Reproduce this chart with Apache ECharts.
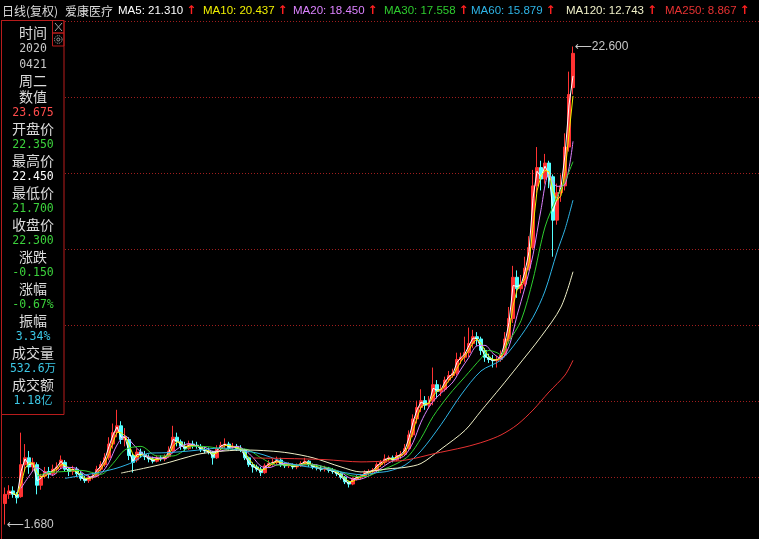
<!DOCTYPE html>
<html>
<head>
<meta charset="utf-8">
<script src="https://cdn.jsdelivr.net/npm/echarts@6/dist/echarts.min.js"></script>
<style>
html, body { margin: 0; padding: 0; background: #000; }
#main { width: 759px; height: 539px; }
</style>
</head>
<body>
<div id="main"></div>
<script>
/*---------------数据 分割线---------------*/
// 每根K线约合4个交易日 [开, 收, 低, 高]
var kData = [
	[2.6,3.0,1.68,3.3],[3.0,3.15,2.8,3.4],[3.15,3.0,2.85,3.35],[3.0,2.85,2.6,3.1],[2.9,4.3,2.85,5.7],
	[4.3,4.6,4.0,5.2],[4.6,4.2,3.9,4.9],[4.2,4.4,4.0,4.6],[4.3,3.4,3.0,4.4],[3.4,3.8,3.2,3.9],
	[3.8,4.0,3.7,4.2],[4.0,3.9,3.7,4.2],[3.9,4.1,3.8,4.3],[4.1,4.2,3.9,4.4],[4.2,4.5,4.1,4.7],
	[4.4,4.1,4.0,4.5],[4.1,4.0,3.8,4.2],[4.0,4.1,3.85,4.25],[4.1,3.9,3.75,4.2],[3.9,3.7,3.6,4.0],
	[3.7,3.6,3.5,3.8],[3.6,3.75,3.5,3.85],[3.75,3.8,3.65,3.95],[3.8,4.1,3.75,4.25],[4.1,4.3,4.0,4.45],
	[4.3,4.6,4.2,4.8],[4.6,5.2,4.5,5.5],[5.2,5.7,5.0,6.1],[5.7,6.0,5.5,6.7],[6.0,5.4,5.2,6.2],
	[5.4,5.5,5.1,5.9],[5.4,4.7,4.5,5.5],[4.7,4.4,3.95,4.8],[4.5,4.85,4.4,5.0],[4.85,4.75,4.6,5.0],
	[4.75,4.65,4.5,4.9],[4.6,4.55,4.4,4.75],[4.55,4.45,4.35,4.65],[4.45,4.6,4.4,4.7],[4.6,4.55,4.45,4.7],
	[4.55,4.65,4.45,4.75],[4.65,4.9,4.6,5.1],[4.9,5.5,4.8,6.0],[5.5,5.3,5.1,5.7],[5.3,5.1,4.95,5.4],
	[5.1,5.0,4.9,5.3],[5.0,5.2,4.95,5.35],[5.2,5.15,5.0,5.35],[5.15,5.1,5.0,5.3],[5.1,4.95,4.85,5.2],
	[4.95,4.9,4.8,5.1],[4.9,4.85,4.75,5.05],[4.85,4.6,4.3,4.9],[4.6,5.0,4.55,5.15],[5.0,5.15,4.95,5.3],
	[5.15,5.2,5.0,5.45],[5.2,5.05,4.95,5.3],[5.05,5.1,4.95,5.25],[5.1,5.0,4.9,5.2],[5.0,4.95,4.85,5.15],
	[4.95,4.6,4.5,5.0],[4.6,4.3,4.2,4.65],[4.3,4.2,3.95,4.4],[4.2,4.1,4.0,4.3],[4.1,3.95,3.8,4.2],
	[3.95,4.25,3.9,4.35],[4.25,4.35,4.2,4.5],[4.35,4.4,4.25,4.55],[4.4,4.5,4.3,4.65],[4.5,4.3,4.2,4.6],
	[4.3,4.25,4.15,4.4],[4.25,4.3,4.15,4.4],[4.3,4.2,4.1,4.35],[4.2,4.25,4.1,4.35],[4.25,4.35,4.2,4.45],
	[4.35,4.45,4.3,4.6],[4.45,4.3,4.2,4.5],[4.3,4.2,4.1,4.35],[4.2,4.15,4.05,4.3],[4.15,4.1,4.0,4.25],
	[4.1,4.15,4.0,4.25],[4.15,4.05,3.95,4.2],[4.05,4.0,3.9,4.15],[4.0,3.9,3.8,4.05],[3.9,3.75,3.65,3.95],
	[3.75,3.55,3.45,3.8],[3.55,3.45,3.3,3.6],[3.45,3.7,3.4,3.75],[3.7,3.75,3.6,3.85],[3.75,3.8,3.65,3.9],
	[3.8,3.95,3.75,4.05],[3.95,4.0,3.85,4.1],[4.0,4.05,3.9,4.15],[4.05,4.3,4.0,4.4],[4.3,4.4,4.2,4.5],
	[4.4,4.55,4.3,4.75],[4.55,4.6,4.45,4.7],[4.6,4.5,4.4,4.7],[4.5,4.7,4.45,4.85],[4.7,4.75,4.55,4.9],
	[4.75,5.0,4.7,5.2],[5.0,5.6,4.95,5.8],[5.6,6.3,5.5,6.5],[6.3,6.8,6.1,7.1],[6.8,7.1,6.6,7.6],
	[7.1,6.9,6.7,7.3],[6.9,7.0,6.75,7.3],[7.1,7.8,6.9,8.55],[7.8,7.5,7.2,8.0],[7.5,7.6,7.3,7.8],
	[7.6,8.0,7.5,8.15],[8.0,8.2,7.9,8.4],[8.2,8.3,8.1,8.5],[8.3,8.9,8.2,9.2],[8.9,9.0,8.7,9.2],
	[9.0,9.2,8.8,9.9],[9.2,9.6,9.0,10.3],[9.6,9.9,9.4,10.2],[9.9,9.8,9.5,10.1],[9.8,9.3,9.1,9.9],
	[9.3,9.0,8.8,9.4],[9.0,8.9,8.75,9.15],[8.9,8.85,8.55,9.1],[8.85,8.9,8.55,9.05],[8.9,9.1,8.8,9.3],
	[9.1,9.8,9.0,10.1],[9.8,10.7,9.6,11.2],[10.7,12.5,10.5,13.0],[12.5,12.0,11.6,12.8],[12.0,12.2,11.8,12.6],
	[12.2,12.9,12.1,13.4],[12.9,13.8,12.8,14.3],[13.8,16.5,13.7,17.2],[16.5,17.3,16.2,18.2],[17.3,16.8,16.3,17.6],
	[16.8,17.5,16.6,17.9],[17.5,16.9,16.4,17.6],[16.9,15.0,13.4,17.0],[15.0,16.2,14.8,16.6],[16.2,16.5,15.8,17.0],
	[16.5,18.2,16.3,18.8],[18.2,20.5,18.0,21.5],[20.8,22.3,20.5,22.6]
];

var ma5 = ['-',3.1,3.05,2.9,4.0,4.55,4.3,4.35,3.6,3.7,
	3.95,3.9,4.05,4.2,4.45,4.2,4.0,4.1,3.95,3.75,
	3.62,3.72,3.8,4.05,4.25,4.55,5.1,5.6,5.95,5.5,
	5.5,4.85,4.45,4.75,4.75,4.67,4.57,4.47,4.57,4.56,
	4.63,4.85,5.4,5.33,5.15,5.02,5.16,5.16,5.11,4.98,
	4.91,4.86,4.65,4.92,5.12,5.19,5.08,5.09,5.02,4.96,
	4.67,4.36,4.22,4.12,3.98,4.19,4.33,4.39,4.48,4.34,
	4.26,4.29,4.22,4.24,4.33,4.43,4.33,4.22,4.16,4.11,
	4.14,4.07,4.01,3.92,3.78,3.59,3.47,3.65,3.74,3.79,
	3.92,3.99,4.04,4.25,4.38,4.52,4.59,4.52,4.66,4.74,
	4.95,5.48,6.16,6.7,7.04,6.94,6.98,7.64,7.56,7.58,
	7.92,8.16,8.28,8.78,8.98,9.16,9.52,9.84,9.82,9.4,
	9.06,8.92,8.86,8.89,9.06,9.66,10.52,12.14,12.1,12.16,
	12.76,13.62,15.96,17.14,16.9,17.36,17.02,15.38,15.96,16.44,
	17.86,20.04,21.31];

var ma10 = ['-','-',3.06,2.97,3.46,4.13,4.38,4.36,3.96,3.76,
	3.8,3.92,4.0,4.1,4.3,4.28,4.14,4.06,4.0,3.86,
	3.7,3.68,3.74,3.91,4.12,4.38,4.78,5.28,5.72,5.7,
	5.56,5.16,4.74,4.64,4.72,4.73,4.63,4.53,4.53,4.55,
	4.6,4.73,5.09,5.3,5.26,5.1,5.1,5.14,5.14,5.05,
	4.96,4.89,4.76,4.81,4.98,5.14,5.13,5.1,5.05,5.0,
	4.82,4.55,4.32,4.18,4.06,4.1,4.23,4.35,4.43,4.4,
	4.32,4.28,4.25,4.24,4.28,4.37,4.37,4.29,4.2,4.14,
	4.13,4.1,4.05,3.97,3.86,3.7,3.55,3.57,3.67,3.76,
	3.85,3.94,4.01,4.14,4.29,4.44,4.54,4.55,4.6,4.68,
	4.84,5.19,5.76,6.36,6.82,6.96,6.98,7.3,7.52,7.6,
	7.74,8.0,8.2,8.52,8.82,9.06,9.32,9.64,9.8,9.62,
	9.28,9.02,8.9,8.88,8.97,9.34,10.02,11.24,11.94,12.18,
	12.44,13.12,14.7,16.28,16.94,17.18,17.12,16.26,15.86,16.08,
	17.12,18.78,20.437];

// [K线序号, 值]
var ma20 = [[4,3.26],[6,3.79],[8,4.18],[10,3.96],[12,3.84],[14,4.14],[16,4.18],[18,4.12],[20,3.86],[22,3.75],
	[24,3.91],[26,4.4],[28,5.16],[30,5.56],[32,5.2],[34,4.84],[36,4.64],[38,4.6],[40,4.56],[42,4.84],
	[44,5.09],[46,5.22],[48,5.11],[50,5.06],[52,4.88],[54,4.9],[56,5.0],[58,5.1],[60,4.94],[62,4.61],
	[64,4.23],[66,4.17],[68,4.29],[70,4.36],[72,4.31],[74,4.27],[76,4.31],[78,4.29],[80,4.18],[82,4.09],
	[84,3.97],[86,3.73],[88,3.64],[90,3.73],[92,3.91],[94,4.14],[96,4.38],[98,4.55],[100,4.71],[102,5.27],
	[104,6.16],[106,6.82],[108,7.26],[110,7.58],[112,7.92],[114,8.48],[116,9.0],[118,9.5],[120,9.52],[122,9.17],
	[124,8.95],[126,9.47],[128,10.82],[130,12.06],[132,13.48],[134,15.46],[136,17.0],[138,16.48],[140,16.56],[142,18.45]];
var ma30 = [[8,3.8],[11,3.95],[15,4.0],[19,4.05],[24,3.88],[27,4.35],[30,4.95],[34,5.1],[38,4.68],[42,4.68],
	[47,5.1],[51,5.08],[55,4.98],[60,4.98],[64,4.6],[68,4.28],[72,4.28],[76,4.3],[80,4.2],[84,3.98],
	[87,3.8],[90,3.78],[94,4.05],[98,4.35],[101,4.7],[104,5.45],[107,6.4],[111,7.35],[115,8.15],[119,8.95],
	[121,9.3],[123,9.2],[124,9.1],[126,9.7],[129,10.6],[132,12.4],[135,14.7],[138,16.0],[140,16.7],[142,17.558]];
var ma60 = [[15,3.7],[20,3.85],[24,3.98],[28,4.15],[32,4.41],[36,4.8],[40,4.82],[45,4.88],[49,4.95],[54,5.03],
	[58,4.95],[63,4.81],[66,4.65],[70,4.4],[75,4.22],[80,4.12],[84,3.98],[89,3.86],[93,3.95],[96,4.02],
	[100,4.28],[104,4.9],[109,6.05],[114,7.35],[119,8.4],[124,8.88],[128,9.7],[132,10.75],[135,11.9],[138,13.6],
	[140,14.6],[142,15.879]];
var ma120 = [[29,3.93],[35,4.15],[40,4.35],[45,4.6],[49,4.78],[55,4.9],[60,4.94],[66,4.9],[71,4.81],[77,4.6],
	[84,4.2],[89,3.98],[93,4.05],[96,4.12],[100,4.18],[104,4.35],[109,4.98],[115,5.8],[119,6.65],[124,7.7],
	[128,8.57],[134,9.9],[139,11.2],[142,12.743]];
var ma250 = [[62,4.59],[70,4.57],[80,4.52],[89,4.42],[95,4.45],[99,4.47],[103,4.6],[107,4.77],[115,5.07],[120,5.32],
	[124,5.6],[128,6.04],[132,6.69],[136,7.48],[140,8.22],[142,8.867]];

// 左侧信息栏
var infoDay = ['2020', '0421', '周二'];
var priceLabels = ['数值', '开盘价', '最高价', '最低价', '收盘价'];
var priceValues = [23.675, 22.35, 22.45, 21.7, 22.3];
var changeValue = -0.15;
var changePct = -0.67;
var amplitudePct = 3.34;
var volumeText = '532.6万';
var amountText = '1.18亿';

/*---------------样式 分割线---------------*/
var maNames = ['MA5', 'MA10', 'MA20', 'MA30', 'MA60', 'MA120', 'MA250'];
var maData = [ma5, ma10, ma20, ma30, ma60, ma120, ma250];
var maColors = ['#ffffff', '#f0f000', '#dc82ff', '#2ecc2e', '#2eb4e6', '#f0f0c8', '#e83232'];
var headX = [118, 203, 293, 384, 471, 566, 665];
var upColor = '#ff3232';
var downColor = '#54ffff';
var borderRed = '#b81c1c';
var labelGray = '#dcdcdc';
var headFont = '11.5px Arial';

function lastVal(arr) {
	var v = arr[arr.length - 1];
	return Array.isArray(v) ? v[1] : v;
}
// 量文字宽度，红箭头紧跟其后
var measureCtx = document.createElement('canvas').getContext('2d');
function textWidth(s, font) {
	measureCtx.font = font;
	return measureCtx.measureText(s).width;
}

var cats = kData.map(function(d, i) { return i; });

/*---------------图形元素 分割线---------------*/
var graphic = [];
graphic.push({
	type: 'text', x: 2, y: 11, z: 100,
	style: { text: '日线(复权)', fill: labelGray, font: '12px "Noto Sans CJK SC"', textVerticalAlign: 'middle', verticalAlign: 'middle' }
});
graphic.push({
	type: 'text', x: 65, y: 11, z: 100,
	style: { text: '爱康医疗', fill: labelGray, font: '12px "Noto Sans CJK SC"', textVerticalAlign: 'middle', verticalAlign: 'middle' }
});
maNames.forEach(function(n, i) {
	var s = n + ': ' + lastVal(maData[i]).toFixed(3);
	graphic.push({
		type: 'text', x: headX[i], y: 11, z: 100,
		style: { text: s, fill: maColors[i], font: headFont, textVerticalAlign: 'middle', verticalAlign: 'middle' }
	});
	graphic.push({
		type: 'text', x: headX[i] + textWidth(s, headFont) + 3, y: 11, z: 100,
		style: { text: '↑', fill: '#ff2020', font: 'bold 12px "DejaVu Sans"', textVerticalAlign: 'middle', verticalAlign: 'middle' }
	});
});
// 左边框
graphic.push({ type: 'line', z: 90, shape: { x1: 1.5, y1: 20, x2: 1.5, y2: 539 }, style: { stroke: borderRed, lineWidth: 1 } });
// 信息栏框
graphic.push({ type: 'rect', z: 100, shape: { x: 1.5, y: 20.5, width: 62.5, height: 394 }, style: { fill: '#000', stroke: borderRed, lineWidth: 1 } });
graphic.push({ type: 'rect', z: 101, shape: { x: 52.5, y: 20.5, width: 11.5, height: 12.5 }, style: { fill: 'none', stroke: borderRed, lineWidth: 1 } });
graphic.push({ type: 'rect', z: 101, shape: { x: 52.5, y: 33, width: 11.5, height: 13 }, style: { fill: 'none', stroke: borderRed, lineWidth: 1 } });
graphic.push({ type: 'line', z: 102, shape: { x1: 55, y1: 23, x2: 62, y2: 31 }, style: { stroke: '#a0a0a0', lineWidth: 1 } });
graphic.push({ type: 'line', z: 102, shape: { x1: 62, y1: 23, x2: 55, y2: 31 }, style: { stroke: '#a0a0a0', lineWidth: 1 } });
graphic.push({ type: 'circle', z: 102, shape: { cx: 58.3, cy: 39.5, r: 3.8 }, style: { fill: 'none', stroke: '#a0a0a0', lineWidth: 1, lineDash: [1.2, 0.8] } });
graphic.push({ type: 'circle', z: 102, shape: { cx: 58.3, cy: 39.5, r: 1.5 }, style: { fill: 'none', stroke: '#a0a0a0', lineWidth: 1 } });

var prevClose = priceValues[4] - changeValue;
function priceColor(v) {
	if (v > prevClose + 1e-9) return '#ff4c4c';
	if (v < prevClose - 1e-9) return '#3cd23c';
	return '#ffffff';
}
var cjkFont = '14px "Noto Sans CJK SC"';
var numFont = '11.5px "DejaVu Sans Mono", "Noto Sans CJK SC"';
var rows = [['时间', labelGray, cjkFont]];
rows.push([infoDay[0], '#c8c8c8', numFont]);
rows.push([infoDay[1], '#c8c8c8', numFont]);
rows.push([infoDay[2], labelGray, cjkFont]);
priceLabels.forEach(function(l, i) {
	rows.push([l, labelGray, cjkFont]);
	rows.push([priceValues[i].toFixed(3), priceColor(priceValues[i]), numFont]);
});
rows.push(['涨跌', labelGray, cjkFont]);
rows.push([changeValue.toFixed(3), changeValue < 0 ? '#3cd23c' : '#ff4c4c', numFont]);
rows.push(['涨幅', labelGray, cjkFont]);
rows.push([changePct.toFixed(2) + '%', changePct < 0 ? '#3cd23c' : '#ff4c4c', numFont]);
rows.push(['振幅', labelGray, cjkFont]);
rows.push([amplitudePct.toFixed(2) + '%', '#3cc8e6', numFont]);
rows.push(['成交量', labelGray, cjkFont]);
rows.push([volumeText, '#3cc8e6', numFont]);
rows.push(['成交额', labelGray, cjkFont]);
rows.push([amountText, '#3cc8e6', numFont]);
rows.forEach(function(r, i) {
	graphic.push({
		type: 'text', x: 33, y: 33 + 16 * i, z: 103,
		style: { text: r[0], fill: r[1], font: r[2], textAlign: 'center', align: 'center', textVerticalAlign: 'middle', verticalAlign: 'middle' }
	});
});

/*---------------series 分割线---------------*/
var series = [{
	type: 'candlestick',
	name: '日K',
	xAxisIndex: 0,
	yAxisIndex: 0,
	data: kData,
	barWidth: 3,
	itemStyle: {
		color: upColor,
		color0: downColor,
		borderColor: upColor,
		borderColor0: downColor,
		borderWidth: 1
	},
	markPoint: {
		symbol: 'rect',
		symbolSize: 1,
		itemStyle: { color: 'rgba(0,0,0,0)' },
		label: {
			show: true,
			position: 'right',
			distance: 1,
			color: '#c8c8c8',
			fontSize: 12,
			fontFamily: 'Arial, "DejaVu Sans"',
			formatter: function(p) { return '⟵' + Number(p.value).toFixed(3); }
		},
		data: [
			{ type: 'max', valueDim: 'highest' },
			{ type: 'min', valueDim: 'lowest' }
		]
	}
}];
maNames.forEach(function(n, i) {
	var sparse = i >= 2;
	series.push({
		type: 'line',
		name: n,
		xAxisIndex: sparse ? 1 : 0,
		yAxisIndex: 0,
		data: maData[i],
		symbol: 'none',
		smooth: sparse ? 0.3 : false,
		lineStyle: { color: maColors[i], width: 1 },
		z: 3
	});
});
series.push({ type: 'line', xAxisIndex: 2, yAxisIndex: 1, data: [], symbol: 'none' });

var chart = echarts.init(document.getElementById('main'));
chart.setOption({
	backgroundColor: '#000',
	animation: false,
	grid: [
		{ left: 3, top: 21, width: 572, bottom: -14, outerBoundsMode: 'none', containLabel: false },
		{ left: 2, top: 21, right: 0, bottom: -14, outerBoundsMode: 'none', containLabel: false }
	],
	xAxis: [
		{ type: 'category', gridIndex: 0, data: cats, boundaryGap: true, show: false },
		{ type: 'value', gridIndex: 0, min: -0.5, max: kData.length - 0.5, show: false },
		{ type: 'value', gridIndex: 1, min: 0, max: 1, show: false }
	],
	yAxis: [
		{ type: 'value', gridIndex: 0, min: 0.433, max: 23.716, show: false },
		{
			type: 'value', gridIndex: 1, min: 0, max: 7, interval: 1,
			axisLine: { show: false }, axisTick: { show: false }, axisLabel: { show: false },
			splitLine: { show: true, lineStyle: { color: '#a01e1e', type: [1, 2], width: 1 } }
		}
	],
	graphic: graphic,
	series: series
});
</script>
</body>
</html>
